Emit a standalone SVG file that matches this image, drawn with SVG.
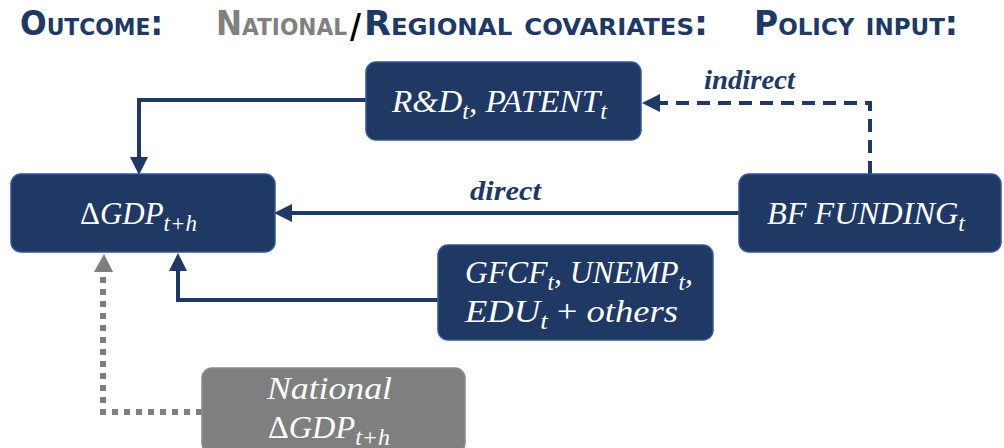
<svg xmlns="http://www.w3.org/2000/svg" width="1004" height="448" viewBox="0 0 1004 448">
<style>
.hd{font-family:"DejaVu Sans","Liberation Sans",sans-serif;font-weight:bold;fill:#203864;font-size:33px;font-variant:small-caps}
.box{fill:#203864;stroke:#2f5597;stroke-width:1.5}
.gbox{fill:#7f7f7f;stroke:#8c8c8c;stroke-width:1.5}
.m{font-family:"Liberation Serif","DejaVu Serif",serif;font-style:italic;fill:#ffffff;font-size:31px}
.up{font-style:normal}
.sub{font-size:23px}
.lbl{font-family:"Liberation Serif","DejaVu Serif",serif;font-style:italic;font-weight:bold;fill:#203864;font-size:27px}
.c{fill:none;stroke:#203864;stroke-width:4}
.dash{stroke-dasharray:13 8}
.dot{fill:none;stroke:#7f7f7f;stroke-width:6;stroke-dasharray:6 6}
</style>
<defs>
<marker id="ah" markerUnits="userSpaceOnUse" markerWidth="18" markerHeight="18" refX="0" refY="9" orient="auto"><path d="M0,0 L18,9 L0,18 z" fill="#203864"/></marker>
</defs>
<g id="header">
<text class="hd" x="20" y="35" textLength="143" lengthAdjust="spacingAndGlyphs">Outcome:</text>
<text class="hd" x="216" y="35" textLength="131" lengthAdjust="spacingAndGlyphs" style="fill:#808080">National</text>
<text class="hd" x="350" y="38" textLength="11" lengthAdjust="spacingAndGlyphs" style="fill:#000;font-size:34px">/</text>
<text class="hd" x="364" y="35" textLength="344" lengthAdjust="spacingAndGlyphs">Regional covariates:</text>
<text class="hd" x="754" y="35" textLength="204" lengthAdjust="spacingAndGlyphs">Policy input:</text>
</g>
<g id="connectors">
<path class="c" d="M366,100 H139 V157" marker-end="url(#ah)"/>
<path class="c" d="M739,213 H292" marker-end="url(#ah)"/>
<path class="c dash" d="M870,174 V103 H660" marker-end="url(#ah)"/>
<path class="c" d="M438,300 H178 V271" marker-end="url(#ah)"/>
<path class="dot" d="M202,412 H103 V273"/>
<path d="M94,272 L104,254 L113,272 z" fill="#7f7f7f"/>
<text class="lbl" x="470" y="200" textLength="71" lengthAdjust="spacingAndGlyphs">direct</text>
<text class="lbl" x="704" y="89" textLength="91" lengthAdjust="spacingAndGlyphs">indirect</text>
</g>
<g id="rd">
<rect class="box" x="366" y="62" width="275" height="78" rx="10"/>
<text class="m" x="392" y="112" textLength="215" lengthAdjust="spacingAndGlyphs">R&amp;D<tspan class="sub" dy="7">t</tspan><tspan dy="-7">, PATENT</tspan><tspan class="sub" dy="7">t</tspan></text>
</g>
<g id="gdp">
<rect class="box" x="11" y="174" width="264" height="78" rx="10"/>
<text class="m" x="80" y="224" textLength="117" lengthAdjust="spacingAndGlyphs"><tspan class="up">Δ</tspan>GDP<tspan class="sub" dy="7">t+h</tspan></text>
</g>
<g id="bf">
<rect class="box" x="739" y="174" width="262" height="78" rx="10"/>
<text class="m" x="767" y="224" textLength="198" lengthAdjust="spacingAndGlyphs">BF FUNDING<tspan class="sub" dy="7">t</tspan></text>
</g>
<g id="gfcf">
<rect class="box" x="438" y="245" width="275" height="95" rx="10"/>
<text class="m" x="465" y="283" textLength="228" lengthAdjust="spacingAndGlyphs">GFCF<tspan class="sub" dy="7">t</tspan><tspan dy="-7">, UNEMP</tspan><tspan class="sub" dy="7">t</tspan><tspan dy="-7">,</tspan></text>
<text class="m" x="465" y="322" textLength="213" lengthAdjust="spacingAndGlyphs">EDU<tspan class="sub" dy="7">t</tspan><tspan dy="-7" class="up"> + </tspan><tspan> others</tspan></text>
</g>
<g id="national">
<rect class="gbox" x="202" y="368" width="263" height="85" rx="10"/>
<text class="m" x="267" y="399" textLength="125" lengthAdjust="spacingAndGlyphs">National</text>
<text class="m" x="268" y="438" textLength="122" lengthAdjust="spacingAndGlyphs"><tspan class="up">Δ</tspan>GDP<tspan class="sub" dy="7">t+h</tspan></text>
</g>
</svg>
